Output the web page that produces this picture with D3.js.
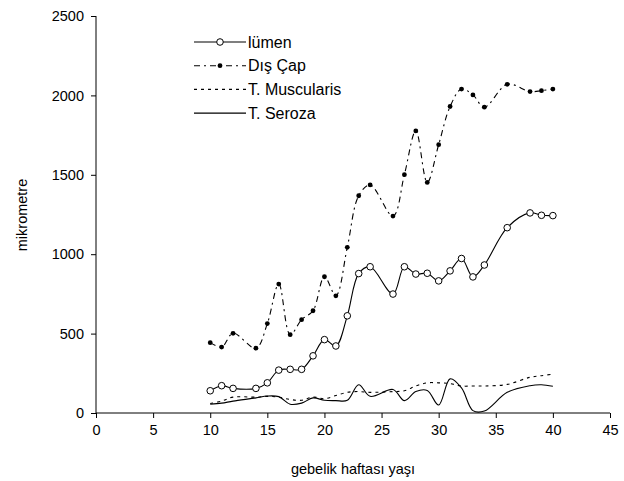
<!DOCTYPE html>
<html>

<head>
    <meta charset="utf-8">
    <script src="https://d3js.org/d3.v7.min.js"></script>
    <style>
        body { margin: 0; background: #fff; }
        text { font-family: Arial, "Liberation Sans", sans-serif; fill: #000; }
    </style>
</head>

<body>
    <div id="viz"></div>

    <script>

        // data (weeks of gestation vs micrometres)
        var weeks = [10, 11, 12, 14, 15, 16, 17, 18, 19, 20, 21, 22, 23, 24, 26, 27, 28, 29, 30, 31, 32, 33, 34, 36, 38, 39, 40]
        var lumen = [140, 172, 155, 155, 190, 270, 275, 275, 360, 462, 422, 612, 878, 921, 749, 921, 875, 880, 832, 895, 973, 857, 932, 1167, 1260, 1245, 1243]
        var disCap = [443, 415, 502, 408, 563, 812, 493, 588, 644, 858, 738, 1043, 1368, 1436, 1240, 1501, 1776, 1452, 1690, 1930, 2040, 2003, 1926, 2070, 2024, 2030, 2040]
        var muscularis = [60, 75, 100, 100, 105, 100, 85, 80, 100, 90, 110, 130, 135, 130, 135, 140, 170, 190, 190, 185, 170, 170, 170, 180, 225, 235, 245]
        var seroza = [55, 62, 75, 95, 107, 103, 55, 62, 95, 80, 78, 80, 178, 105, 148, 78, 135, 142, 50, 215, 158, 15, 12, 130, 172, 178, 168]

        var seriesNames = ["lümen", "Dış Çap", "T. Muscularis", "T. Seroza"]
        var xTicks = [0, 5, 10, 15, 20, 25, 30, 35, 40, 45]
        var yTicks = [0, 500, 1000, 1500, 2000, 2500]

        var width = 624, height = 481

        var svg = d3.select("#viz")
            .append("svg")
            .attr("width", width)
            .attr("height", height)

        var x = d3.scaleLinear().domain([0, 45]).range([96, 610])
        var y = d3.scaleLinear().domain([0, 2500]).range([413, 16])

        // axes
        svg.append("g")
            .attr("transform", "translate(0," + y(0) + ")")
            .call(d3.axisBottom(x).tickValues(xTicks).tickFormat(d3.format("d")).tickSize(5).tickPadding(7))
            .call(g => g.select(".domain").attr("d", "M" + x(0) + ",0H" + x(45)))
        svg.append("g")
            .attr("transform", "translate(" + x(0) + ",0)")
            .call(d3.axisLeft(y).tickValues(yTicks).tickFormat(d3.format("d")).tickSize(5).tickPadding(7))
            .call(g => g.select(".domain").attr("d", "M0," + y(2500) + "V" + y(0)))
        svg.selectAll(".tick text").style("font-size", "14.5px")
        svg.selectAll(".domain, .tick line").attr("stroke", "#000")

        svg.append("text")
            .attr("x", 353)
            .attr("y", 474)
            .attr("text-anchor", "middle")
            .style("font-size", "14.5px")
            .text("gebelik haftası yaşı")
        svg.append("text")
            .attr("transform", "translate(27,215) rotate(-90)")
            .attr("text-anchor", "middle")
            .style("font-size", "14.5px")
            .text("mikrometre")

        var line = d3.line()
            .x(d => x(d[0]))
            .y(d => y(d[1]))
            .curve(d3.curveCatmullRom)

        function pts(vals) { return weeks.map((w, i) => [w, vals[i]]) }

        var styles = [
            { vals: lumen, dash: null, marker: "circle" },
            { vals: disCap, dash: "6,4,2,4", marker: "dot" },
            { vals: muscularis, dash: "3,4", marker: null },
            { vals: seroza, dash: null, marker: null }
        ]

        styles.forEach(function (s) {
            svg.append("path")
                .datum(pts(s.vals))
                .attr("fill", "none")
                .attr("stroke", "#000")
                .attr("stroke-width", 1.1)
                .attr("stroke-dasharray", s.dash)
                .attr("d", line)
        })

        // markers
        svg.selectAll(".mk-lumen")
            .data(pts(lumen))
            .enter()
            .append("circle")
            .attr("cx", d => x(d[0]))
            .attr("cy", d => y(d[1]))
            .attr("r", 3.3)
            .attr("fill", "#fff")
            .attr("stroke", "#000")
        svg.selectAll(".mk-dis")
            .data(pts(disCap))
            .enter()
            .append("circle")
            .attr("cx", d => x(d[0]))
            .attr("cy", d => y(d[1]))
            .attr("r", 2.4)
            .attr("fill", "#000")

        // legend
        var legend = svg.append("g")
        seriesNames.forEach(function (name, i) {
            var ly = 42 + i * 23.7
            var s = styles[i]
            legend.append("line")
                .attr("x1", 194).attr("x2", 246)
                .attr("y1", ly).attr("y2", ly)
                .attr("stroke", "#000")
                .attr("stroke-width", 1.1)
                .attr("stroke-dasharray", s.dash)
            if (s.marker == "circle") {
                legend.append("circle").attr("cx", 220).attr("cy", ly).attr("r", 3.3)
                    .attr("fill", "#fff").attr("stroke", "#000")
            } else if (s.marker == "dot") {
                legend.append("circle").attr("cx", 220).attr("cy", ly).attr("r", 2.4)
                    .attr("fill", "#000")
            }
            legend.append("text")
                .attr("x", 248)
                .attr("y", ly + 5.5)
                .style("font-size", "16px")
                .text(name)
        })

    </script>
</body>

</html>
